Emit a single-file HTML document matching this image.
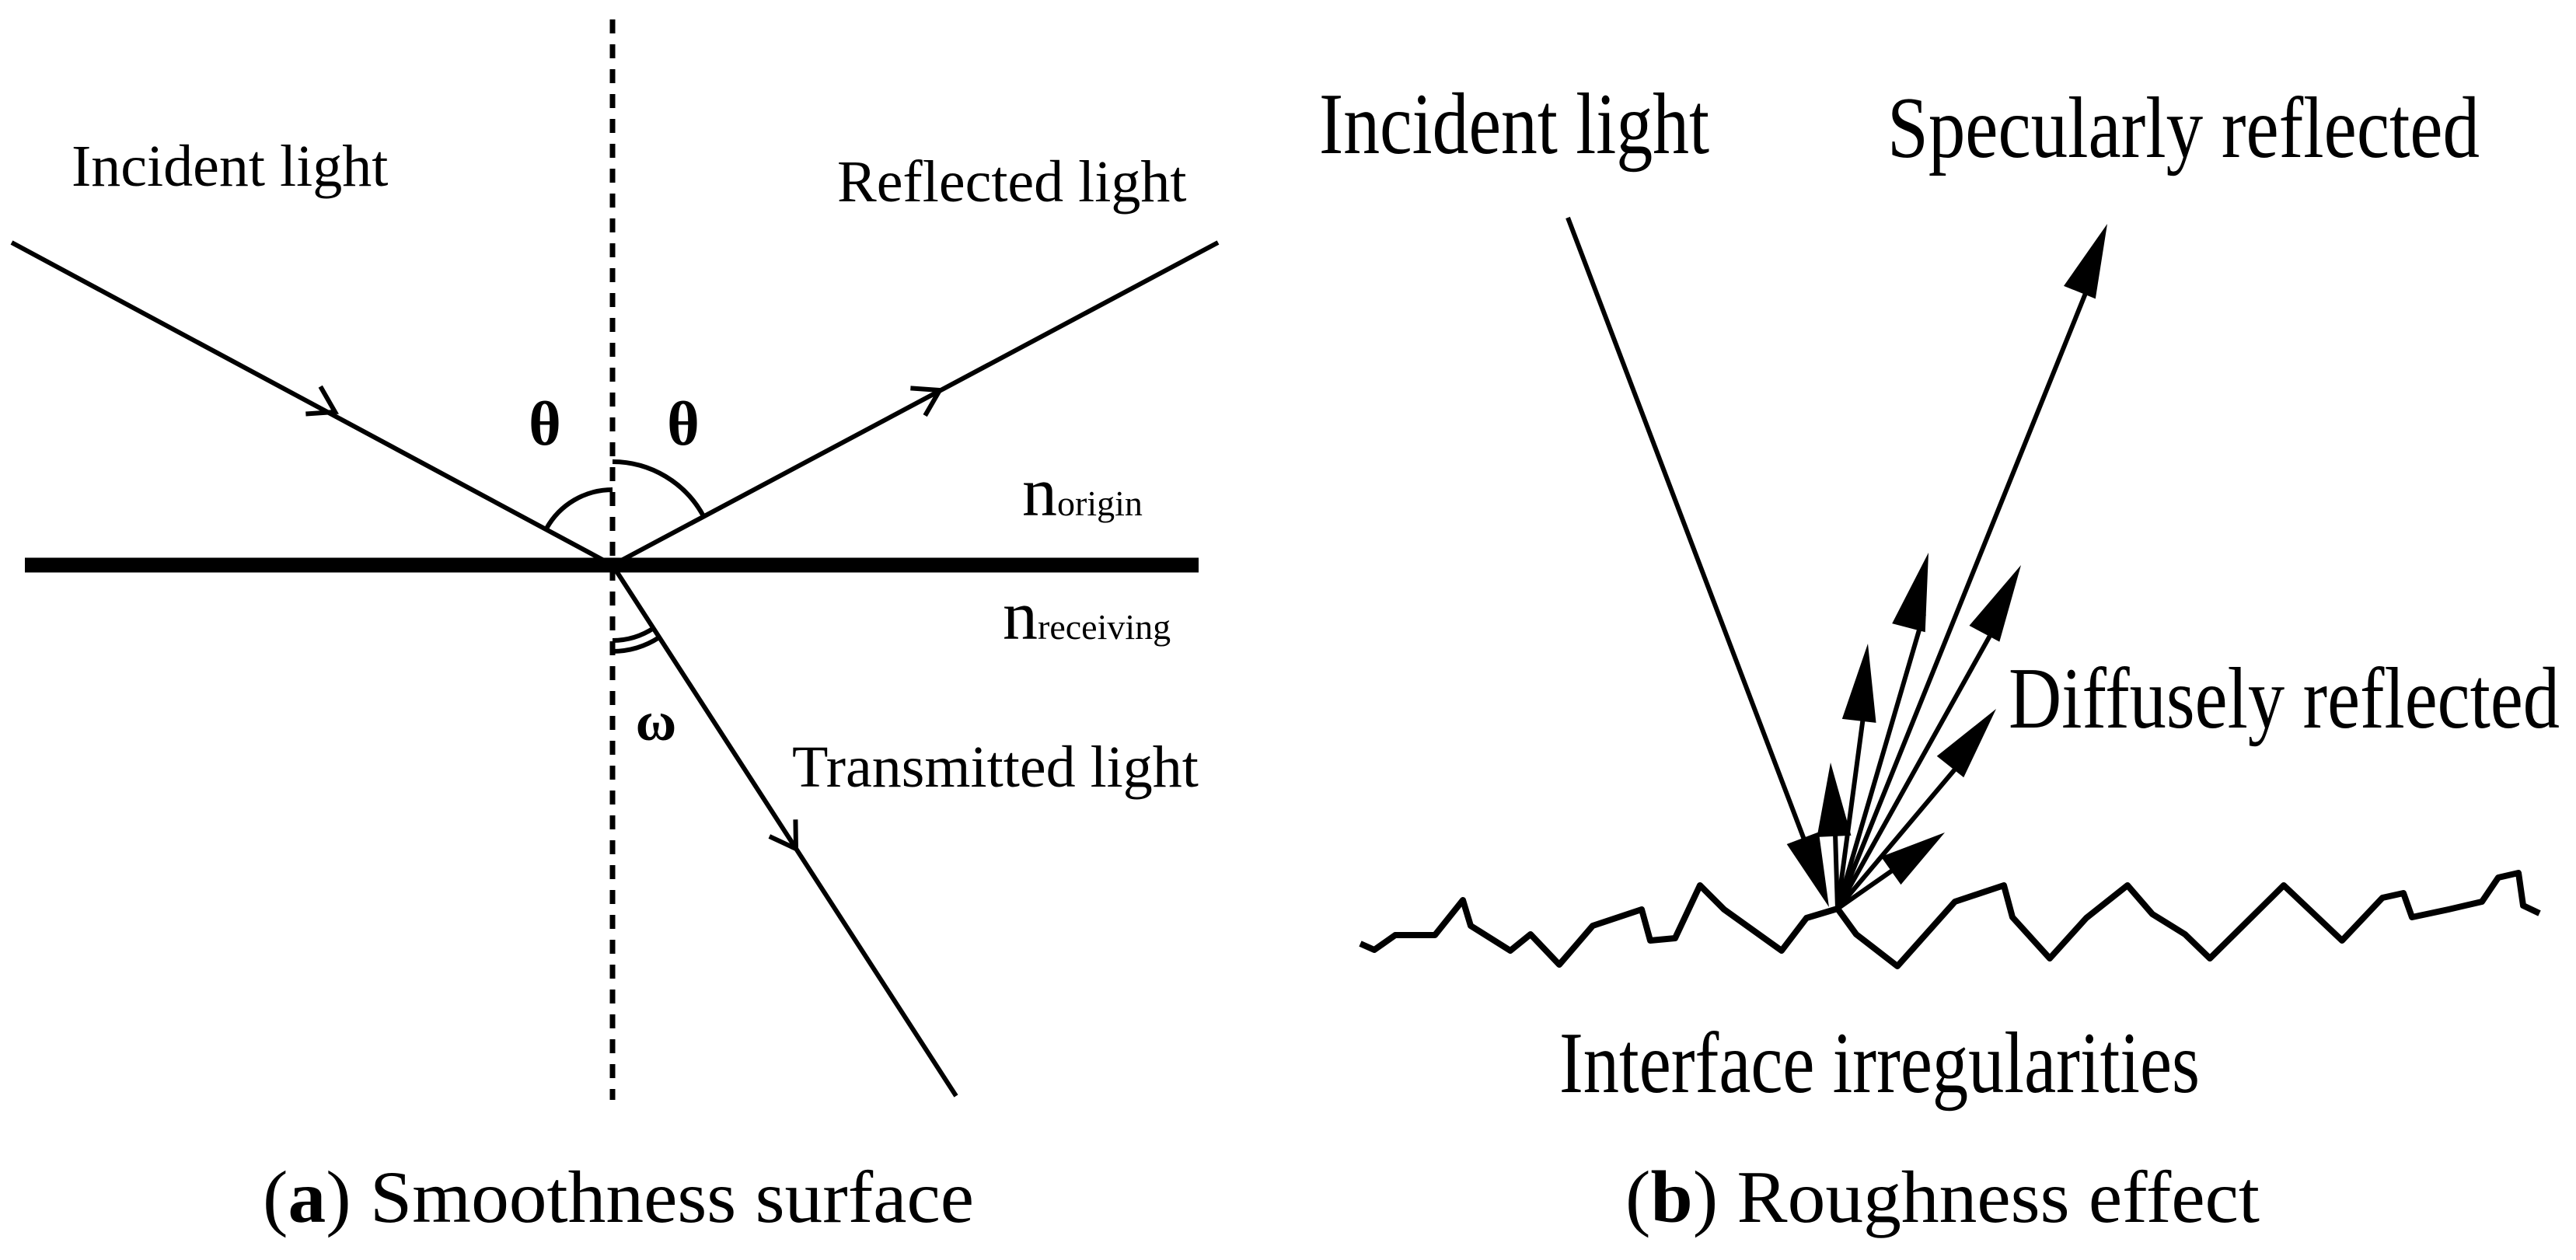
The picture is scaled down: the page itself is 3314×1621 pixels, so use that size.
<!DOCTYPE html>
<html><head><meta charset="utf-8"><style>
html,body{margin:0;padding:0;background:#fff;}
svg{display:block;}
text{font-family:"Liberation Serif",serif;fill:#000;}
</style></head><body>
<svg width="3314" height="1621" viewBox="0 0 3314 1621" xmlns="http://www.w3.org/2000/svg">
<!-- LEFT PANEL -->
<line x1="788" y1="25" x2="788" y2="1415" stroke="#000" stroke-width="7" stroke-dasharray="18,14"/>
<line x1="32" y1="727" x2="1542" y2="727" stroke="#000" stroke-width="19"/>
<line x1="15" y1="312" x2="788" y2="727" stroke="#000" stroke-width="6"/>
<line x1="788" y1="727" x2="1567" y2="312" stroke="#000" stroke-width="6"/>
<line x1="788" y1="727" x2="1230" y2="1410" stroke="#000" stroke-width="6"/>
<!-- chevrons -->
<g fill="none" stroke="#000" stroke-width="6">
<g transform="translate(431,530) rotate(28.2)"><polyline points="-32,-20 0,0 -32,20"/></g>
<g transform="translate(1209,502) rotate(-28)"><polyline points="-32,-20 0,0 -32,20"/></g>
<g transform="translate(1024,1092) rotate(57.1)"><polyline points="-32,-20 0,0 -32,20"/></g>
</g>
<!-- angle arcs -->
<g fill="none" stroke="#000" stroke-width="6">
<path d="M788,630 A97,97 0 0 0 703,680"/>
<path d="M788,594 A133,133 0 0 1 905,664"/>
<path d="M788,824 A97,97 0 0 0 841,808"/>
<path d="M788,838 A111,111 0 0 0 848,820"/>
</g>
<text x="701" y="572" font-size="80" font-weight="bold" text-anchor="middle">θ</text>
<text x="879" y="572" font-size="80" font-weight="bold" text-anchor="middle">θ</text>
<text x="844" y="952" font-size="72" font-weight="bold" text-anchor="middle">ω</text>
<text x="92" y="239" font-size="76">Incident light</text>
<text x="1077" y="259" font-size="76">Reflected light</text>
<text x="1019" y="1012" font-size="76">Transmitted light</text>
<text x="1315" y="663" font-size="90">n<tspan font-size="46">origin</tspan></text>
<text x="1290" y="822" font-size="90">n<tspan font-size="46">receiving</tspan></text>
<text x="338" y="1572" font-size="95" textLength="915" lengthAdjust="spacingAndGlyphs">(<tspan font-weight="bold">a</tspan>) Smoothness surface</text>

<!-- RIGHT PANEL -->
<polyline fill="none" stroke="#000" stroke-width="8" stroke-linejoin="round" points="1750,1214 1768,1222 1795,1203 1846,1203 1882,1158 1892,1191 1943,1223 1969,1202 2006,1241 2049,1191 2112,1170 2123,1210 2155,1207 2187,1139 2218,1170 2292,1223 2324,1181 2364,1169 2388,1202 2441,1243 2515,1160 2578,1139 2589,1180 2637,1233 2684,1181 2737,1139 2769,1176 2811,1202 2843,1233 2938,1139 3013,1210 3065,1155 3092,1149 3103,1180 3150,1170 3193,1160 3214,1129 3240,1123 3246,1165 3267,1175"/>
<defs>
<marker id="ah" markerWidth="10" markerHeight="10" refX="9" refY="5" orient="auto" markerUnits="userSpaceOnUse" viewBox="0 0 10 10">
</marker>
</defs>
<g stroke="#000" stroke-width="6">
<line x1="2017" y1="280" x2="2340" y2="1130"/>
<line x1="2364" y1="1169" x2="2690" y2="360"/>
<line x1="2364" y1="1169" x2="2475" y2="790"/>
<line x1="2364" y1="1169" x2="2400" y2="900"/>
<line x1="2364" y1="1169" x2="2570" y2="800"/>
<line x1="2364" y1="1169" x2="2540" y2="960"/>
<line x1="2364" y1="1169" x2="2470" y2="1095"/>
<line x1="2364" y1="1169" x2="2360" y2="1040"/>
</g>
<g fill="#000">
<!-- arrowheads: tip then base corners -->
<g transform="translate(2353,1167) rotate(69.2)"><polygon points="0,0 -95,-22 -95,22"/></g>
<g transform="translate(2711,288) rotate(-68)"><polygon points="0,0 -95,-22 -95,22"/></g>
<g transform="translate(2481,711) rotate(-75.2)"><polygon points="0,0 -100,-22 -100,22"/></g>
<g transform="translate(2403,828) rotate(-83.5)"><polygon points="0,0 -100,-22 -100,22"/></g>
<g transform="translate(2600,727) rotate(-61.9)"><polygon points="0,0 -100,-22 -100,22"/></g>
<g transform="translate(2568,912) rotate(-51.6)"><polygon points="0,0 -95,-22 -95,22"/></g>
<g transform="translate(2502,1071) rotate(-35.4)"><polygon points="0,0 -85,-22 -85,22"/></g>
<g transform="translate(2355,981) rotate(-92.7)"><polygon points="0,0 -95,-22 -95,22"/></g>
</g>
<text x="1697" y="197" font-size="112" textLength="502" lengthAdjust="spacingAndGlyphs">Incident light</text>
<text x="2428" y="202" font-size="112" textLength="762" lengthAdjust="spacingAndGlyphs">Specularly reflected</text>
<text x="2584" y="936" font-size="112" textLength="709" lengthAdjust="spacingAndGlyphs">Diffusely reflected</text>
<text x="2006" y="1405" font-size="112" textLength="824" lengthAdjust="spacingAndGlyphs">Interface irregularities</text>
<text x="2091" y="1572" font-size="95" textLength="816" lengthAdjust="spacingAndGlyphs">(<tspan font-weight="bold">b</tspan>) Roughness effect</text>
</svg>
</body></html>
